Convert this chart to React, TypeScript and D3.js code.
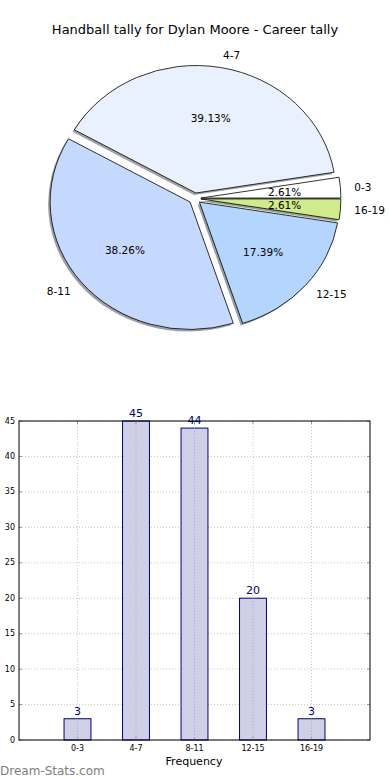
import React from "react";
import * as d3 from "d3";

const categories = ["0-3", "4-7", "8-11", "12-15", "16-19"];
const counts = [3, 45, 44, 20, 3];
const sliceColors = ["#ffffff", "#eaf1fe", "#c5d8fe", "#b4d6fe", "#d0eb8b"];
const yTicks = [0, 5, 10, 15, 20, 25, 30, 35, 40, 45];
const title = "Handball tally for Dylan Moore - Career tally";

const W = 390;
const H = 780;
const FONT = "DejaVu Sans, sans-serif";

// pie geometry
const cx = 194.8;
const cy = 198.5;
const rx = 140;
const ry = 127.5;
const explode = 0.0436;

// bar geometry
const bx0 = 19, bx1 = 370, by0 = 740, by1 = 421;

function shade(c: string) {
  const rgb = d3.rgb(c);
  return d3.rgb(rgb.r * 0.3, rgb.g * 0.3, rgb.b * 0.3).toString();
}

export default function App() {
  const total = d3.sum(counts);
  const pie = d3
    .pie<number>()
    .sort(null)
    .startAngle(Math.PI / 2)
    .endAngle(Math.PI / 2 - 2 * Math.PI)(counts);
  const arc = d3.arc<d3.PieArcDatum<number>>().innerRadius(0).outerRadius(1);

  const slices = pie.map((p, i) => {
    const mid = (p.startAngle + p.endAngle) / 2;
    const sx = Math.sin(mid);
    const sy = -Math.cos(mid);
    return {
      i,
      p,
      path: arc(p) as string,
      ox: cx + explode * rx * sx,
      oy: cy + explode * ry * sy,
      lx: cx + (explode + 1.1) * rx * sx,
      ly: cy + (explode + 1.1) * ry * sy,
      px: cx + (explode + 0.6) * rx * sx,
      py: cy + (explode + 0.6) * ry * sy,
      anchor: sx > 0 ? "start" : "end",
    };
  });

  const x = d3.scaleLinear().domain([0, 6]).range([bx0, bx1]);
  const y = d3.scaleLinear().domain([0, 45]).range([by0, by1]);
  const barW = 0.46;

  return (
    <svg
      width={W}
      height={H}
      style={{ position: "absolute", left: 0, top: 0, background: "#fff" }}
      fontFamily={FONT}
    >
      <text x={195} y={34} textAnchor="middle" fontSize={13} fill="#000">
        {title}
      </text>

      {/* shadows */}
      {slices.map((s) => (
        <g key={"sh" + s.i} transform={`translate(${s.ox - 2},${s.oy + 2}) scale(${rx},${ry})`}>
          <path d={s.path} fill={shade(sliceColors[s.i])} opacity={0.5} />
        </g>
      ))}
      {/* wedges */}
      {slices.map((s) => (
        <g key={"w" + s.i} transform={`translate(${s.ox},${s.oy}) scale(${rx},${ry})`}>
          <path
            d={s.path}
            fill={sliceColors[s.i]}
            stroke="#000"
            strokeWidth={0.8}
            vectorEffect="non-scaling-stroke"
            strokeLinejoin="round"
          />
        </g>
      ))}
      {slices.map((s) => (
        <g key={"t" + s.i}>
          <text
            x={s.lx}
            y={s.ly}
            textAnchor={s.anchor}
            dominantBaseline="central"
            fontSize={10.5}
            fill="#000"
          >
            {categories[s.i]}
          </text>
          <text
            x={s.px}
            y={s.py}
            textAnchor="middle"
            dominantBaseline="central"
            fontSize={10.5}
            fill="#000"
          >
            {((counts[s.i] / total) * 100).toFixed(2) + "%"}
          </text>
        </g>
      ))}

      {/* bar chart grid */}
      {yTicks.map((t) => (
        <g key={"yg" + t}>
          <line x1={bx0} x2={bx1} y1={y(t)} y2={y(t)} stroke="#c8c8c8" strokeWidth={1} strokeDasharray="1,2" />
          <line x1={bx0} x2={bx0 + 3} y1={y(t)} y2={y(t)} stroke="#999" />
          <line x1={bx1 - 3} x2={bx1} y1={y(t)} y2={y(t)} stroke="#999" />
          <text x={15} y={y(t)} textAnchor="end" dominantBaseline="central" fontSize={8} fill="#000">
            {t}
          </text>
        </g>
      ))}
      {categories.map((c, i) => (
        <g key={"xg" + c}>
          <line x1={x(i + 1)} x2={x(i + 1)} y1={by0} y2={by1} stroke="#c8c8c8" strokeWidth={1} strokeDasharray="1,2" />
        </g>
      ))}

      {/* bars */}
      {counts.map((v, i) => (
        <g key={"b" + i}>
          <rect
            x={x(i + 1 - barW / 2)}
            y={y(v)}
            width={x(barW) - x(0)}
            height={y(0) - y(v)}
            fill="#ccccE4"
            fillOpacity={0.95}
            stroke="#000080"
            strokeWidth={1}
          />
          <line x1={x(i + 1)} x2={x(i + 1)} y1={y(v)} y2={by0} stroke="#a8a8c0" strokeWidth={1} strokeDasharray="1,2" />
          <text x={x(i + 1)} y={y(v) - 4} textAnchor="middle" fontSize={11} fill="#000080">
            {v}
          </text>
        </g>
      ))}

      {/* x ticks */}
      {categories.map((c, i) => (
        <g key={"xt" + c}>
          <line x1={x(i + 1)} x2={x(i + 1)} y1={by1} y2={by1 + 3} stroke="#999" />
          <line x1={x(i + 1)} x2={x(i + 1)} y1={by0 - 3} y2={by0} stroke="#999" />
          <text x={x(i + 1)} y={748} textAnchor="middle" dominantBaseline="central" fontSize={8} fill="#000">
            {c}
          </text>
        </g>
      ))}

      <rect x={bx0} y={by1} width={bx1 - bx0} height={by0 - by1} fill="none" stroke="#000" strokeWidth={1} />

      <text x={194} y={765} textAnchor="middle" fontSize={11} fill="#000">
        Frequency
      </text>
      <text x={0} y={775} fontSize={12} fill="#808080">
        Dream-Stats.com
      </text>
    </svg>
  );
}
